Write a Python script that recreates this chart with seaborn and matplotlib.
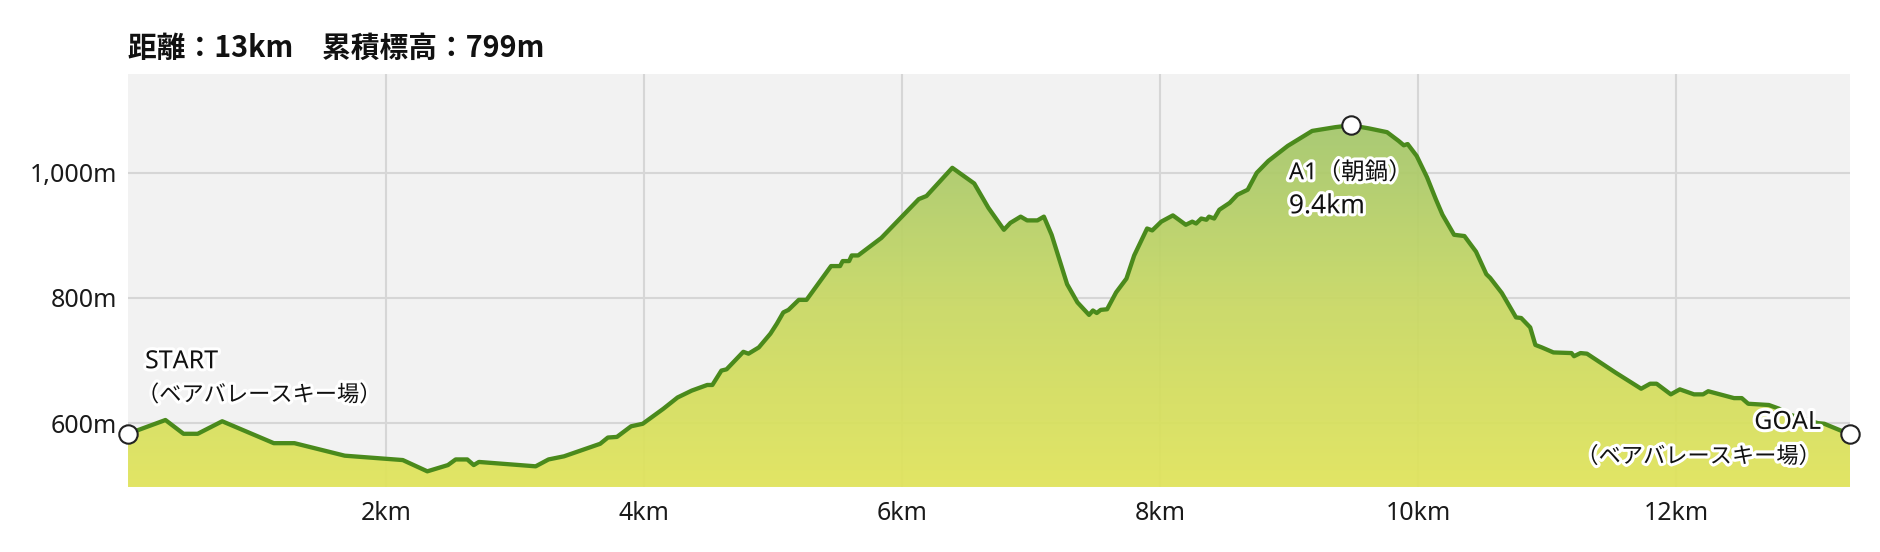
import matplotlib
matplotlib.use("Agg")
import matplotlib.pyplot as plt
import matplotlib.patheffects as pe
from matplotlib.colors import LinearSegmentedColormap
from matplotlib.patches import Polygon
import numpy as np
import pandas as pd
import seaborn as sns

# elevation profile (km, m)
km = [0.00, 0.29, 0.43, 0.54, 0.73, 1.13, 1.29, 1.68, 2.13, 2.32, 2.48, 2.54, 2.63, 2.68, 2.72,
      3.16, 3.26, 3.38, 3.66, 3.72, 3.79, 3.90, 3.99, 4.15, 4.26, 4.37, 4.49, 4.53, 4.60, 4.64,
      4.77, 4.81, 4.89, 4.98, 5.03, 5.08, 5.12, 5.20, 5.26, 5.45, 5.52, 5.54, 5.59, 5.61, 5.66,
      5.84, 6.13, 6.19, 6.39, 6.56, 6.67, 6.79, 6.84, 6.92, 6.97, 7.05, 7.10, 7.16, 7.28, 7.36,
      7.45, 7.48, 7.51, 7.54, 7.59, 7.66, 7.74, 7.80, 7.90, 7.94, 8.01, 8.10, 8.20, 8.25, 8.28,
      8.32, 8.36, 8.38, 8.42, 8.46, 8.54, 8.60, 8.68, 8.75, 8.84, 8.99, 9.18, 9.36, 9.48, 9.62,
      9.76, 9.85, 9.89, 9.92, 9.99, 10.07, 10.14, 10.19, 10.28, 10.36, 10.45, 10.53, 10.56, 10.65,
      10.76, 10.80, 10.87, 10.91, 10.96, 11.05, 11.19, 11.21, 11.26, 11.31, 11.53, 11.73, 11.80,
      11.85, 11.96, 12.03, 12.14, 12.21, 12.25, 12.45, 12.51, 12.56, 12.72, 12.80, 12.86, 13.10,
      13.15, 13.35]
elev = [583, 605, 583, 583, 603, 568, 568, 548, 541, 523, 533, 542, 542, 533, 538,
        531, 542, 547, 567, 577, 578, 595, 599, 623, 641, 652, 661, 661, 684, 686,
        714, 711, 721, 743, 759, 777, 781, 797, 797, 851, 851, 859, 859, 868, 868,
        896, 958, 963, 1008, 983, 944, 909, 920, 930, 924, 924, 930, 901, 822, 793,
        773, 780, 776, 781, 782, 809, 831, 868, 911, 908, 922, 932, 917, 922, 919,
        927, 925, 930, 927, 941, 952, 965, 973, 1000, 1019, 1043, 1067, 1073, 1076, 1071,
        1065, 1051, 1044, 1046, 1027, 993, 957, 933, 901, 899, 874, 838, 832, 808,
        769, 768, 753, 725, 721, 713, 712, 707, 712, 711, 681, 655, 663,
        663, 646, 654, 646, 646, 651, 640, 640, 631, 629, 623, 615, 600,
        599, 582]

aid_km = 9.48
title = "距離：13km　累積標高：799m"
start_lines = ["START", "（ベアバレースキー場）"]
aid_lines = ["A1（朝鍋）", "9.4km"]
goal_lines = ["GOAL", "（ベアバレースキー場）"]

x_ticks = [2, 4, 6, 8, 10, 12]
x_tick_labels = ["2km", "4km", "6km", "8km", "10km", "12km"]
y_ticks = [600, 800, 1000]
y_tick_labels = ["600m", "800m", "1,000m"]

y_min, y_max = 498, 1158

sns.set_theme(style="whitegrid", rc={
    "axes.facecolor": "#f2f2f2",
    "grid.color": "#d6d6d6",
    "grid.linewidth": 1.5,
})
# Latin glyphs from Noto Sans, Japanese falls back to the CJK face
plt.rcParams["font.family"] = ["Noto Sans", "Noto Sans CJK JP", "DejaVu Sans"]

df = pd.DataFrame({"km": km, "elev": elev})

fig = plt.figure(figsize=(18.8, 5.52), dpi=100)
ax = fig.add_axes([0.0681, 0.1178, 0.9160, 0.7482])

# gradient fill under the profile
verts = list(zip(km, elev)) + [(km[-1], y_min), (km[0], y_min)]
patch = Polygon(verts, closed=True, facecolor="none", edgecolor="none")
ax.add_patch(patch)
cmap = LinearSegmentedColormap.from_list("elev", ["#e1e45a", "#c9d963", "#a4c76b"])
grad = np.linspace(0, 1, 256).reshape(-1, 1)
im = ax.imshow(grad, extent=[km[0], km[-1], y_min, max(elev)], origin="lower",
               aspect="auto", cmap=cmap, zorder=2, alpha=0.93)
im.set_clip_path(patch)

sns.lineplot(data=df, x="km", y="elev", color="#4a8a1c", linewidth=3.1, ax=ax, zorder=4)

aid_i = km.index(aid_km)
pts = pd.DataFrame({"km": [km[0], km[aid_i], km[-1]],
                    "elev": [elev[0], elev[aid_i], elev[-1]]})
sns.scatterplot(data=pts, x="km", y="elev", s=175, color="white", edgecolor="#222222",
                linewidth=1.5, zorder=6, clip_on=False, ax=ax)

halo = [pe.withStroke(linewidth=4.5, foreground="white")]
lab = dict(textcoords="offset pixels", color="#111111", va="center",
           path_effects=halo, zorder=7)
ax.annotate(start_lines[0], (km[0], elev[0]), xytext=(17, 72), ha="left", fontsize=18, **lab)
ax.annotate(start_lines[1], (km[0], elev[0]), xytext=(9, 38), ha="left", fontsize=16, **lab)
ax.annotate(aid_lines[0], (km[aid_i], elev[aid_i]), xytext=(-62, -48), ha="left",
            fontsize=17, **lab)
ax.annotate(aid_lines[1], (km[aid_i], elev[aid_i]), xytext=(-62, -81), ha="left",
            fontsize=19, **lab)
ax.annotate(goal_lines[0], (km[-1], elev[-1]), xytext=(-29, 12), ha="right", fontsize=18, **lab)
ax.annotate(goal_lines[1], (km[-1], elev[-1]), xytext=(-29, -23), ha="right", fontsize=16, **lab)

ax.set_xlim(km[0], km[-1])
ax.set_ylim(y_min, y_max)
ax.set_xticks(x_ticks, x_tick_labels)
ax.set_yticks(y_ticks, y_tick_labels)
ax.tick_params(axis="both", length=0, labelsize=18, colors="#1a1a1a")
ax.tick_params(axis="x", pad=10)
ax.tick_params(axis="y", pad=8)
ax.set_xlabel("")
ax.set_ylabel("")
for s in ax.spines.values():
    s.set_visible(False)
ax.grid(True, zorder=1)
ax.set_axisbelow(True)

# title in the CJK face, which carries a bold weight for both scripts
fig.text(0.0681, 1 - 48 / 552, title, fontsize=20.7, fontweight="bold", color="#111111",
         va="center", ha="left", family=["Noto Sans CJK JP", "DejaVu Sans"])

fig.savefig("out.png", dpi=100)
